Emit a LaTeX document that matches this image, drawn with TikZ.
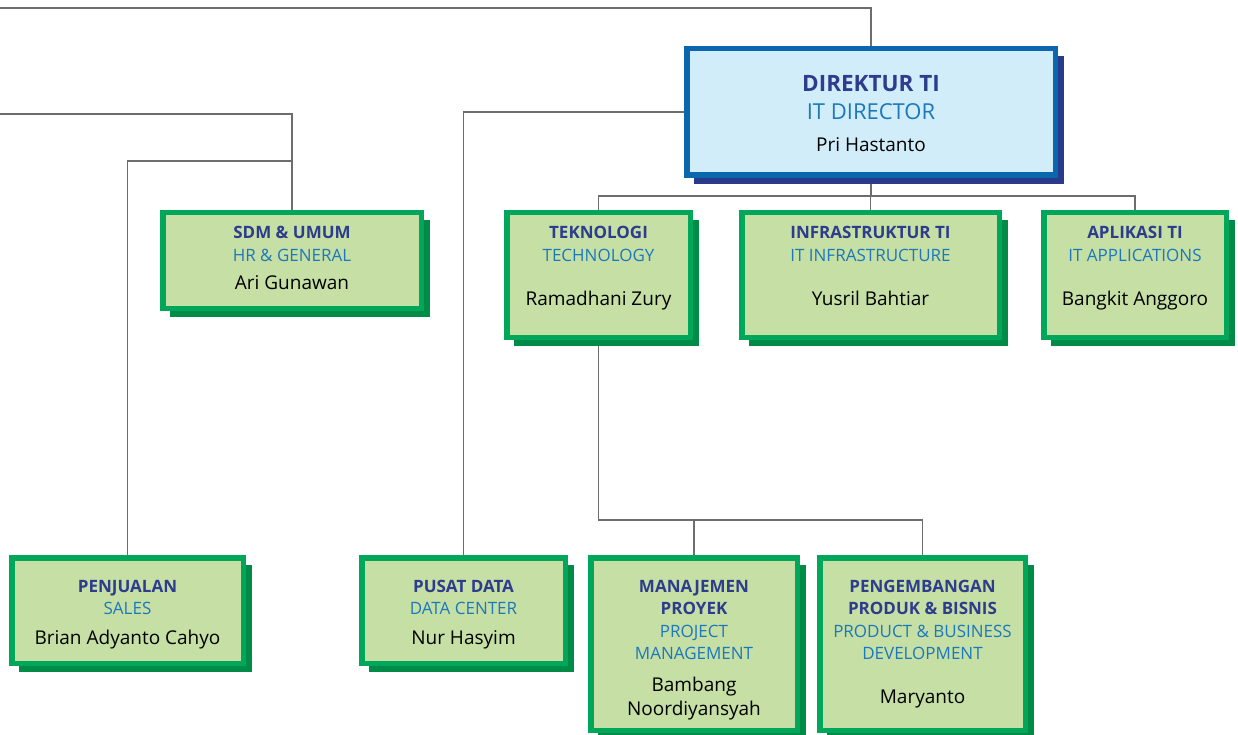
\documentclass[tikz,border=0pt]{standalone}
\usepackage{fontspec}
\setmainfont{Open Sans}
\usetikzlibrary{backgrounds}

\definecolor{gfill}{HTML}{C5DFA4}
\definecolor{gedge}{HTML}{00A65A}
\definecolor{gshadow}{HTML}{008C46}
\definecolor{dfill}{HTML}{D2EDFA}
\definecolor{dedge}{HTML}{0A67AE}
\definecolor{dshadow}{HTML}{2A3A8A}
\definecolor{titlecol}{HTML}{2E3C8D}
\definecolor{subcol}{HTML}{1B78BD}
\definecolor{linecol}{HTML}{6D6D6D}

\tikzset{
  gbox/.style={draw=gedge, fill=gfill, line width=5.5pt, inner sep=0pt},
  dbox/.style={draw=dedge, fill=dfill, line width=5.5pt, inner sep=0pt},
  conn/.style={draw=linecol, line width=1.6pt},
  ttl/.style={font=\bfseries\fontsize{17}{19}\selectfont, text=titlecol, anchor=base, inner sep=0pt},
  sub/.style={font=\fontsize{17}{19}\selectfont, text=subcol, anchor=base, inner sep=0pt},
  who/.style={font=\fontsize{19}{21}\selectfont, text=black, anchor=base, inner sep=0pt},
}

% #1 colour prefix (g or d), #2 node name, #3..#6 outer corners x1 y1 x2 y2
\newcommand\orgbox[6]{%
  \fill[#1shadow] ({#3+10},{#4+10}) rectangle ({#5+6},{#6+6});
  \node[#1box, minimum width={(#5-#3-5.5)*1pt}, minimum height={(#6-#4-5.5)*1pt}]
    (#2) at ({(#3+#5)/2},{(#4+#6)/2}) {};
}

\begin{document}
\begin{tikzpicture}[x=1pt, y=-1pt]
\useasboundingbox (0,0) rectangle (1238,735);

% boxes
\orgbox{d}{dir}{684}{46}{1058}{178}
\orgbox{g}{sdm}{160}{210}{424}{311}
\orgbox{g}{tek}{504}{210}{693}{340}
\orgbox{g}{inf}{739}{210}{1002}{340}
\orgbox{g}{apl}{1041}{210}{1229}{340}
\orgbox{g}{pj}{9}{555}{246}{666}
\orgbox{g}{pd}{359}{555}{568}{666}
\orgbox{g}{mp}{588}{555}{800}{733}
\orgbox{g}{pe}{817}{555}{1028}{733}

% director
\node[ttl, font=\bfseries\fontsize{22.5}{24}\selectfont] (dirt) at (871,91.5) {DIREKTUR TI};
\node[sub, font=\fontsize{22}{24}\selectfont] (dirs) at (871,119.5) {IT DIRECTOR};
\node[who, font=\fontsize{19}{21}\selectfont] (dirw) at (871,152) {Pri Hastanto};

% second row
\node[ttl] (sdmt) at (292,239) {SDM \& UMUM};
\node[sub] (sdms) at (292,261) {HR \& GENERAL};
\node[who] (sdmw) at (292,289) {Ari Gunawan};

\node[ttl] (tekt) at (598.5,239) {TEKNOLOGI};
\node[sub] (teks) at (598.5,261) {TECHNOLOGY};
\node[who] (tekw) at (598.5,305) {Ramadhani Zury};

\node[ttl] (inft) at (870.5,239) {INFRASTRUKTUR TI};
\node[sub] (infs) at (870.5,261) {IT INFRASTRUCTURE};
\node[who] (infw) at (870.5,305) {Yusril Bahtiar};

\node[ttl] (aplt) at (1135,239) {APLIKASI TI};
\node[sub] (apls) at (1135,261) {IT APPLICATIONS};
\node[who] (aplw) at (1135,305) {Bangkit Anggoro};

% bottom row
\node[ttl] (pjt) at (127.5,592) {PENJUALAN};
\node[sub] (pjs) at (127.5,614) {SALES};
\node[who] (pjw) at (127.5,644) {Brian Adyanto Cahyo};

\node[ttl] (pdt) at (463.5,592) {PUSAT DATA};
\node[sub] (pds) at (463.5,614) {DATA CENTER};
\node[who] (pdw) at (463.5,644) {Nur Hasyim};

\node[ttl] (mpt1) at (694,592) {MANAJEMEN};
\node[ttl] (mpt2) at (694,614) {PROYEK};
\node[sub] (mps1) at (694,637) {PROJECT};
\node[sub] (mps2) at (694,659) {MANAGEMENT};
\node[who] (mpw1) at (694,691) {Bambang};
\node[who] (mpw2) at (694,715) {Noordiyansyah};

\node[ttl] (pet1) at (922.5,592) {PENGEMBANGAN};
\node[ttl] (pet2) at (922.5,614) {PRODUK \& BISNIS};
\node[sub] (pes1) at (922.5,637) {PRODUCT \& BUSINESS};
\node[sub] (pes2) at (922.5,659) {DEVELOPMENT};
\node[who] (pew) at (922.5,703) {Maryanto};

% connectors
\coordinate (edgeA) at (0,8);
\coordinate (edgeB) at (0,114);
\begin{pgfonlayer}{background}
  \draw[conn] (dir.north) |- (edgeA);
  \draw[conn] (edgeB) -| (sdm.north);
  \draw[conn] (pj.north) |- (sdm.north |- 0,161);
  \draw[conn] (dir.west) -| (pd.north);
  \draw[conn] (dir.south) -- (dir.south |- 0,196);
  \draw[conn] (tek.north) |- (apl.north |- 0,196) -- (apl.north);
  \draw[conn] (inf.north) -- (inf.north |- 0,196);
  \draw[conn] (tek.south) |- (pe.north |- 0,520) -- (pe.north);
  \draw[conn] (mp.north) -- (mp.north |- 0,520);
\end{pgfonlayer}
\end{tikzpicture}
\end{document}
